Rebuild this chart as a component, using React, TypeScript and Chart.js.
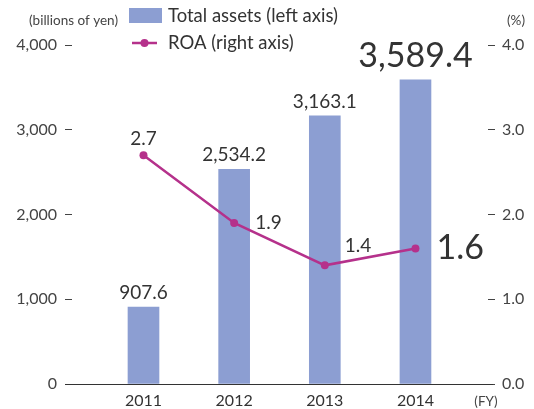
import React, { useEffect, useRef } from "react";
import { Chart, registerables } from "chart.js";

Chart.register(...registerables);

const years = ["2011", "2012", "2013", "2014"];
const totalAssets = [907.6, 2534.2, 3163.1, 3589.4];
const roa = [2.7, 1.9, 1.4, 1.6];
const leftTicks = [0, 1000, 2000, 3000, 4000];
const rightTicks = [0, 1, 2, 3, 4];

const BAR_COLOR = "#8c9ed2";
const LINE_COLOR = "#b5318b";
const TEXT = "#333333";
const FONT = "Lato, 'Noto Sans', sans-serif";

const overlay = {
  id: "overlay",
  afterDatasetsDraw(chart: any) {
    const ctx = chart.ctx;
    const y = chart.scales.y;
    const x = chart.scales.x;
    const y1 = chart.scales.y1;
    ctx.save();
    // baseline
    const by = Math.round(y.getPixelForValue(0)) + 0.5;
    ctx.strokeStyle = "#333";
    ctx.lineWidth = 1;
    ctx.beginPath();
    ctx.moveTo(65, by);
    ctx.lineTo(493, by);
    ctx.stroke();

    ctx.fillStyle = TEXT;
    ctx.textBaseline = "middle";
    // bar labels
    totalAssets.forEach((v, i) => {
      const last = i === totalAssets.length - 1;
      const px = x.getPixelForValue(i);
      const py = y.getPixelForValue(v);
      ctx.font = `${last ? 34 : 19}px ${FONT}`;
      ctx.textAlign = "center";
      ctx.fillText(v.toLocaleString("en-US", { minimumFractionDigits: 1 }), px, py - (last ? 24 : 14));
    });
    // roa labels
    roa.forEach((v, i) => {
      const last = i === roa.length - 1;
      const px = x.getPixelForValue(i);
      const py = y1.getPixelForValue(v);
      ctx.font = `${last ? 34 : 19}px ${FONT}`;
      const s = v.toFixed(1);
      if (i === 0) {
        ctx.textAlign = "center";
        ctx.fillText(s, px, py - 16);
      } else if (i === 2) {
        ctx.textAlign = "left";
        ctx.fillText(s, px + 20, py - 19);
      } else {
        ctx.textAlign = "left";
        ctx.fillText(s, px + 21, py);
      }
    });

    // legend
    ctx.fillStyle = BAR_COLOR;
    ctx.fillRect(129, 8, 33, 15);
    ctx.strokeStyle = LINE_COLOR;
    ctx.lineWidth = 2.5;
    ctx.beginPath();
    ctx.moveTo(132, 43);
    ctx.lineTo(157, 43);
    ctx.stroke();
    ctx.fillStyle = LINE_COLOR;
    ctx.beginPath();
    ctx.arc(144.5, 43, 4, 0, Math.PI * 2);
    ctx.fill();
    ctx.fillStyle = TEXT;
    ctx.font = `18.5px ${FONT}`;
    ctx.textAlign = "left";
    ctx.fillText("Total assets (left axis)", 168, 16);
    ctx.fillText("ROA (right axis)", 168, 43);

    // units
    ctx.fillStyle = "#444";
    ctx.font = `13.5px ${FONT}`;
    ctx.textAlign = "left";
    ctx.fillText("(billions of yen)", 29, 21);
    ctx.textAlign = "right";
    ctx.fillText("(%)", 525, 21);
    ctx.textAlign = "center";
    ctx.fillText("(FY)", 486, 402);
    ctx.restore();
  },
};

export default function App() {
  const ref = useRef<HTMLCanvasElement>(null);
  useEffect(() => {
    document.body.style.margin = "0";
    const chart = new Chart(ref.current as HTMLCanvasElement, {
      type: "bar",
      data: {
        datasets: [
          {
            type: "line",
            label: "ROA (right axis)",
            data: roa.map((v, i) => ({ x: i, y: v })),
            yAxisID: "y1",
            borderColor: LINE_COLOR,
            backgroundColor: LINE_COLOR,
            borderWidth: 2.5,
            pointRadius: 4,
            pointBackgroundColor: LINE_COLOR,
            pointBorderWidth: 0,
            tension: 0,
            order: 0,
          } as any,
          {
            type: "bar",
            label: "Total assets (left axis)",
            data: totalAssets.map((v, i) => ({ x: i, y: v })),
            yAxisID: "y",
            backgroundColor: BAR_COLOR,
            barThickness: 31,
            order: 1,
          } as any,
        ],
      },
      options: {
        animation: false,
        responsive: false,
        devicePixelRatio: 1,
        layout: { padding: { top: 45, left: 0, right: 0, bottom: 0 } },
        plugins: { legend: { display: false }, tooltip: { enabled: false } },
        scales: {
          x: {
            type: "linear",
            offset: false,
            min: -0.7886,
            max: 3.8,
            grid: { display: false, drawTicks: false },
            border: { display: false },
            afterBuildTicks: (s: any) => {
              s.ticks = years.map((_, i) => ({ value: i }));
            },
            ticks: {
              autoSkip: false,
              maxRotation: 0,
              padding: 7,
              color: "#333",
              font: { size: 16, family: FONT },
              callback: (v: any) => years[v] ?? "",
            },
            afterFit: (s: any) => {
              s.height = 25;
            },
          },
          y: {
            type: "linear",
            position: "left",
            min: leftTicks[0],
            max: leftTicks[leftTicks.length - 1],
            grid: { drawOnChartArea: false, drawTicks: true, tickLength: 7, tickColor: "#444", tickWidth: 1 },
            border: { display: false },
            afterBuildTicks: (s: any) => {
              s.ticks = leftTicks.map((v) => ({ value: v }));
            },
            ticks: {
              padding: 8,
              color: "#444",
              font: { size: 16, family: FONT },
              callback: (v: any) => Number(v).toLocaleString("en-US"),
            },
            afterFit: (s: any) => {
              s.width = 72;
            },
          },
          y1: {
            type: "linear",
            position: "right",
            min: rightTicks[0],
            max: rightTicks[rightTicks.length - 1],
            grid: { drawOnChartArea: false, drawTicks: true, tickLength: 7, tickColor: "#444", tickWidth: 1 },
            border: { display: false },
            afterBuildTicks: (s: any) => {
              s.ticks = rightTicks.map((v) => ({ value: v }));
            },
            ticks: {
              padding: 7,
              color: "#444",
              font: { size: 16, family: FONT },
              callback: (v: any) => Number(v).toFixed(1),
            },
            afterFit: (s: any) => {
              s.width = 46;
            },
          },
        },
      },
      plugins: [overlay],
    });
    return () => chart.destroy();
  }, []);
  return (
    <div style={{ width: 534, height: 409 }}>
      <canvas ref={ref} width={534} height={409} />
    </div>
  );
}
